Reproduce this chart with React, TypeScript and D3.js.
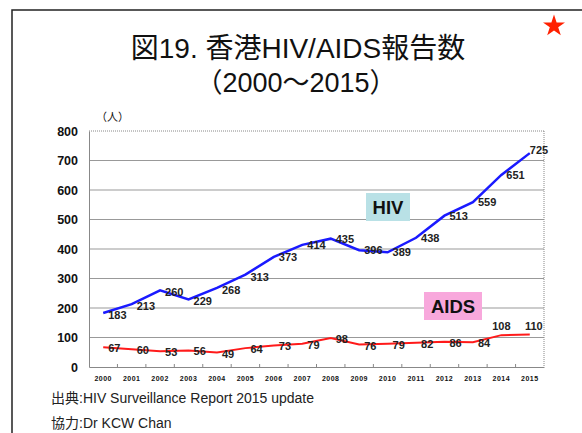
import React, { useEffect, useRef } from 'react';
import * as d3 from 'd3';

const years = ['2000', '2001', '2002', '2003', '2004', '2005', '2006', '2007', '2008', '2009', '2010', '2011', '2012', '2013', '2014', '2015'];
const hiv = [183, 213, 260, 229, 268, 313, 373, 414, 435, 396, 389, 438, 513, 559, 651, 725];
const aids = [67, 60, 53, 56, 49, 64, 73, 79, 98, 76, 79, 82, 86, 84, 108, 110];
const yTicks = [0, 100, 200, 300, 400, 500, 600, 700, 800];

const App: React.FC = () => {
  const svgRef = useRef<SVGSVGElement | null>(null);

  useEffect(() => {
    const svg = d3.select(svgRef.current);
    svg.selectAll('*').remove();
    const margin = { top: 131, right: 38, bottom: 66, left: 89 };
    const width = 582;
    const height = 433;

    const x = d3
      .scaleBand()
      .domain(years)
      .range([margin.left, width - margin.right]);
    const y = d3.scaleLinear().domain([0, 800]).range([height - margin.bottom, margin.top]);
    const cx = (i: number) => x(years[i])! + x.bandwidth() / 2;

    // frame
    svg.append('rect').attr('x', 12).attr('y', 10).attr('width', 600).attr('height', 460)
      .attr('fill', 'none').attr('stroke', '#222').attr('stroke-width', 1.5);

    // star
    const star = d3.symbol().type(d3.symbolStar).size(150);
    svg.append('path').attr('d', star()!).attr('transform', 'translate(554,26)').attr('fill', '#ff2000');

    const titleFont = '"Liberation Sans", "Noto Sans CJK JP", sans-serif';
    svg.append('text').attr('x', 298).attr('y', 58).attr('text-anchor', 'middle')
      .attr('font-family', titleFont).attr('font-size', 28).attr('fill', '#111')
      .text('図19. 香港HIV/AIDS報告数');
    svg.append('text').attr('x', 296).attr('y', 92).attr('text-anchor', 'middle')
      .attr('font-family', titleFont).attr('font-size', 27).attr('fill', '#111')
      .text('（2000〜2015）');

    svg.append('text').attr('x', 96).attr('y', 121)
      .attr('font-family', '"Noto Sans CJK JP", sans-serif').attr('font-size', 11).attr('fill', '#111')
      .text('（人）');

    // gridlines
    svg.append('g').selectAll('line').data(yTicks.slice(1, -1)).enter().append('line')
      .attr('x1', margin.left).attr('x2', width - margin.right)
      .attr('y1', d => y(d)).attr('y2', d => y(d))
      .attr('stroke', '#999').attr('stroke-width', 1);
    svg.append('line').attr('x1', margin.left).attr('x2', width - margin.right)
      .attr('y1', y(800)).attr('y2', y(800)).attr('stroke', '#888').attr('stroke-dasharray', '1,1');
    svg.append('line').attr('x1', width - margin.right).attr('x2', width - margin.right)
      .attr('y1', y(800)).attr('y2', y(0)).attr('stroke', '#888').attr('stroke-dasharray', '1,1');

    // axes
    const yAxis = svg.append('g').attr('transform', `translate(${margin.left},0)`)
      .call(d3.axisLeft(y).tickValues(yTicks).tickSize(0).tickPadding(11).tickFormat(d3.format('d')) as any);
    yAxis.select('.domain').attr('stroke', '#888');
    yAxis.selectAll('text').attr('font-family', '"Liberation Sans", Arial, sans-serif')
      .attr('font-size', 12.5).attr('font-weight', 'bold').attr('fill', '#111');

    const xAxis = svg.append('g').attr('transform', `translate(0,${y(0)})`)
      .call(d3.axisBottom(x).tickSize(0).tickPadding(9) as any);
    xAxis.select('.domain').attr('stroke', '#888');
    xAxis.selectAll('text').attr('font-family', '"Liberation Sans", Arial, sans-serif')
      .attr('font-size', 7).attr('font-weight', 'bold').attr('letter-spacing', 0.5).attr('fill', '#111');
    svg.append('g').selectAll('line').data(years.slice(1)).enter().append('line')
      .attr('x1', d => x(d)!).attr('x2', d => x(d)!)
      .attr('y1', y(0)).attr('y2', y(0) - 3).attr('stroke', '#888');

    const line = d3.line<number>().x((_, i) => cx(i)).y(d => y(d));

    svg.append('path').datum(hiv).attr('d', line).attr('fill', 'none')
      .attr('stroke', '#1a1aff').attr('stroke-width', 2.5);
    svg.append('path').datum(aids).attr('d', line).attr('fill', 'none')
      .attr('stroke', '#ff1a1a').attr('stroke-width', 2);

    const lblFont = '"Liberation Sans", Arial, sans-serif';
    svg.append('g').selectAll('text').data(hiv).enter().append('text')
      .attr('x', (_, i) => cx(i) + (i === 15 ? 0 : 5))
      .attr('y', (d, i) => y(d) + (i < 6 ? 6 : i === 15 ? 1 : 4))
      .attr('font-family', lblFont).attr('font-size', 11).attr('font-weight', 'bold').attr('fill', '#222')
      .text(d => d);
    svg.append('g').selectAll('text').data(aids).enter().append('text')
      .attr('x', (_, i) => (i >= 14 ? cx(i) + (i === 15 ? 4 : 0) : cx(i) + 5))
      .attr('y', (d, i) => (i >= 14 ? y(d) - 5 : y(d) + 5))
      .attr('text-anchor', (_, i) => (i >= 14 ? 'middle' : 'start'))
      .attr('font-family', lblFont).attr('font-size', 11).attr('font-weight', 'bold').attr('fill', '#222')
      .text(d => d);

    // series tags
    svg.append('rect').attr('x', 366).attr('y', 193).attr('width', 44).attr('height', 28).attr('fill', '#b9e1e6');
    svg.append('text').attr('x', 388).attr('y', 214).attr('text-anchor', 'middle')
      .attr('font-family', lblFont).attr('font-size', 18.5).attr('font-weight', 'bold').attr('fill', '#111').text('HIV');
    svg.append('rect').attr('x', 424).attr('y', 292).attr('width', 58).attr('height', 28).attr('fill', '#f8a8dc');
    svg.append('text').attr('x', 453).attr('y', 313).attr('text-anchor', 'middle')
      .attr('font-family', lblFont).attr('font-size', 18.5).attr('font-weight', 'bold').attr('fill', '#111').text('AIDS');

    // footer
    const foot = '"Liberation Sans", "Noto Sans CJK JP", sans-serif';
    svg.append('text').attr('x', 51).attr('y', 403).attr('font-family', foot).attr('font-size', 14).attr('fill', '#222')
      .text('出典:HIV Surveillance Report 2015 update');
    svg.append('text').attr('x', 51).attr('y', 428).attr('font-family', foot).attr('font-size', 14).attr('fill', '#222')
      .text('協力:Dr KCW Chan');
  }, []);

  return (
    <div style={{ position: 'absolute', left: 0, top: 0 }}>
      <svg ref={svgRef} width={582} height={433}></svg>
    </div>
  );
};

export default App;
